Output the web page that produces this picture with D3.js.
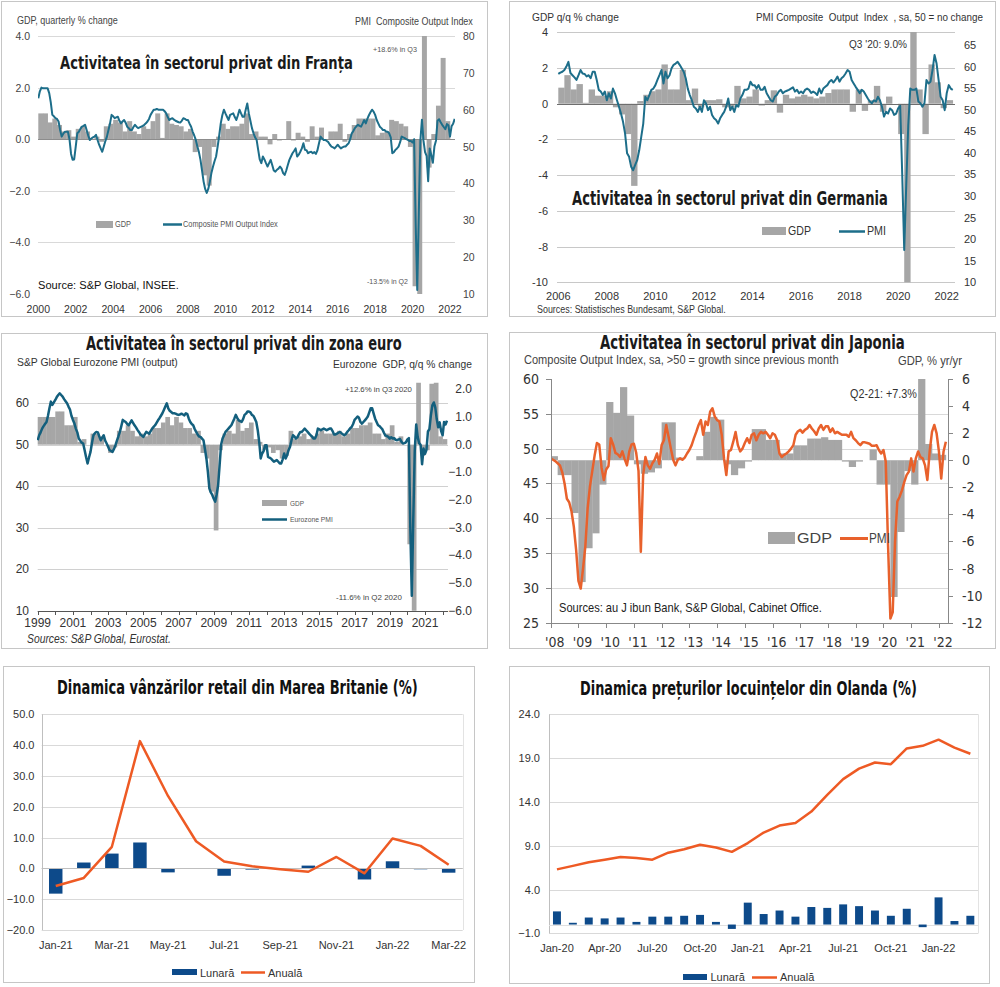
<!DOCTYPE html>
<html><head><meta charset="utf-8">
<script src="https://cdn.jsdelivr.net/npm/d3@7"></script>
<style>
html,body{margin:0;padding:0;background:#fff;}
svg{display:block;}
text{white-space:pre;}
</style></head><body>
<svg id="c" width="1000" height="987"></svg>
<script>
// ================= DATA =================
// France: Composite PMI (monthly, from Jan 2000) and GDP q/q % (quarterly, from 2000 Q1)
const frYearTicks = d3.range(2000, 2023, 2);
const frPmi = [
 63.1,65.0,66.0,65.8,65.8,65.8,65.8,64.5,62.0,58.6,58.2,57.7,
 57.5,56.8,54.5,52.7,53.5,54.0,54.0,54.0,52.0,48.0,46.4,46.5,
 50.0,53.6,54.0,54.8,55.4,55.6,55.9,54.5,53.0,51.8,52.2,52.5,
 52.7,53.2,51.8,50.5,49.5,48.6,50.0,51.5,52.7,54.5,56.3,58.6,
 58.2,57.7,57.9,58.1,57.0,56.3,56.8,57.2,56.5,55.4,55.0,54.5,
 54.5,55.3,55.9,55.4,55.0,55.2,55.4,55.6,55.9,56.3,56.8,57.5,
 58.6,59.3,60.0,60.0,60.2,60.0,60.0,60.0,60.0,59.6,59.0,58.0,
 57.2,57.5,57.7,57.3,57.0,56.8,56.6,56.5,57.0,57.7,57.5,57.2,
 57.2,56.2,55.4,54.0,53.0,51.8,50.0,48.5,46.4,43.5,40.5,38.5,
 37.4,38.5,40.5,42.8,44.5,46.0,47.3,50.0,53.0,56.3,58.5,60.0,
 59.0,58.1,57.2,58.6,58.8,59.0,58.0,57.2,58.5,60.0,59.0,58.1,
 58.1,60.0,61.7,59.0,57.0,55.0,53.6,52.5,51.8,49.1,46.5,45.5,
 47.3,46.5,45.5,44.6,45.5,46.4,45.0,43.5,43.2,43.7,44.0,44.6,
 44.0,42.8,42.3,43.5,45.0,46.4,47.3,48.2,48.8,49.5,47.3,47.8,
 48.6,49.5,50.9,49.1,49.0,48.2,48.5,48.6,48.2,48.5,48.0,49.0,
 50.9,52.7,52.2,51.8,51.8,51.5,51.2,50.5,50.0,49.8,49.5,50.0,
 50.5,50.0,49.5,49.8,50.0,50.0,50.5,50.9,52.0,53.6,54.2,55.0,
 55.5,55.9,55.6,55.4,56.3,57.2,56.3,57.5,58.5,59.3,60.0,59.5,
 58.6,57.2,56.3,55.4,55.0,54.5,54.5,54.1,54.0,53.6,52.5,48.2,
 48.5,49.1,49.5,50.0,51.2,52.7,52.5,52.3,52.0,51.8,51.5,51.5,
 51.1,52.0,28.9,11.1,32.1,51.7,57.3,51.6,48.5,47.5,40.6,49.5,
 47.7,45.6,50.0,51.6,57.0,57.4,56.6,55.9,55.3,54.7,56.1,55.8,
 52.7,55.5,56.2,57.5];
const frGdp = [
 1.0,1.0,0.65,0.8,  0.55,0.3,0.35,0.1,  0.4,0.5,0.3,0.0,  0.1,-0.1,0.5,0.6,
 0.75,0.65,0.3,0.7, 0.3,0.2,0.5,0.4,   0.7,1.0,0.05,1.0, 0.6,0.55,0.5,0.3,
 0.4,-0.5,-0.3,-1.4, -1.8,-0.3,0.1,0.6, 0.4,0.5,0.5,0.6, 1.0,0.2,0.3,0.1,
 0.1,-0.2,0.2,-0.05, 0.0,0.7,-0.05,0.25, 0.1,-0.1,0.5,0.1, 0.45,0.0,0.3,0.3,
 0.6,-0.1,0.2,0.55, 0.8,0.8,0.8,0.8, 0.15,0.25,0.3,0.75, 0.7,0.6,0.5,-0.3,
 -5.7,-13.5,18.6,-1.1, 0.2,1.3,3.15,0.7, 0.0];

// Germany: Composite PMI (monthly, from Jan 2006), GDP q/q % (from 2006 Q1)
const deYearTicks = d3.range(2006, 2023, 2);
const dePmi = [
 58.3,58.6,58.8,59.2,60.0,61.1,58.5,58.0,57.5,56.9,58.0,59.2,
 58.4,58.3,57.7,58.0,57.3,58.8,58.8,56.9,54.6,54.2,53.4,54.2,
 52.2,53.8,52.6,54.9,53.8,52.2,50.7,49.1,47.2,44.5,39.9,39.1,
 36.8,36.0,37.2,38.3,40.6,43.7,46.8,53.0,52.2,53.4,54.6,54.9,
 55.7,56.9,58.0,59.2,56.1,58.8,57.3,58.0,59.6,60.4,60.7,61.1,
 60.4,59.6,58.8,57.3,54.9,53.4,52.2,50.7,50.3,49.5,50.7,49.5,
 52.2,51.5,49.9,50.7,48.8,48.0,47.6,46.8,48.0,48.8,49.5,50.7,
 52.6,49.9,50.7,49.5,51.1,50.7,52.6,53.4,54.6,54.6,54.9,56.5,
 55.7,55.7,54.9,55.7,54.6,54.6,55.3,53.8,53.0,52.2,51.9,53.0,
 53.4,54.2,54.6,53.8,54.2,54.4,54.6,54.9,55.2,54.2,54.6,53.8,
 54.2,53.8,54.6,54.9,54.6,53.9,54.2,53.9,53.4,54.9,53.8,54.9,
 55.3,55.7,56.5,56.9,56.3,56.9,57.7,56.5,57.3,57.7,58.4,59.2,
 58.8,56.9,56.1,55.3,54.6,53.8,54.6,54.2,53.4,52.6,51.9,51.5,
 52.2,51.9,53.0,52.2,50.7,48.4,49.5,49.1,50.3,49.9,48.8,49.1,
 50.3,50.9,35.2,17.5,32.5,46.4,54.9,54.6,54.6,54.9,51.9,51.5,
 50.7,51.5,56.9,56.1,56.5,59.2,62.7,60.7,56.9,53.0,52.2,49.9,
 53.8,55.7,54.9,54.6];
const deGdp = [
 0.9,1.6,0.8,1.1,  0.05,0.8,0.45,0.45,  0.7,-0.2,-0.6,-1.7,  -4.6,0.15,0.5,0.7,
 0.8,2.2,0.8,0.8,  1.9,0.2,0.85,-0.2,   0.2,0.2,0.25,-0.2,   -0.2,1.0,0.3,0.4,
 0.8,-0.1,0.2,0.75, -0.5,0.5,0.3,0.4,   0.5,0.4,0.3,0.4,     0.6,0.8,0.8,0.8,
 -0.45,0.8,-0.4,0.2, 1.0,-0.45,0.4,0.0, -1.7,-10.0,9.0,0.8,  -1.7,2.2,1.2,-0.25,
 0.2];

// Eurozone: PMI output (monthly, from Jan 1999), GDP q/q % (from 1999 Q1)
const ezYearTicks = d3.range(1999, 2022, 2);
const ezPmi = [
 51.1,52.3,53.0,53.9,54.5,55.0,55.5,57.0,58.8,60.4,59.6,60.2,
 60.8,61.5,62.0,62.4,62.0,61.6,61.0,60.5,60.0,59.2,58.5,57.0,
 56.0,55.2,53.9,53.0,51.5,51.0,50.5,50.3,48.7,47.0,45.5,47.0,
 48.3,50.5,52.3,52.8,53.1,53.0,52.0,51.1,51.7,52.3,51.0,50.3,
 49.5,48.7,48.5,48.3,49.0,49.9,51.0,52.0,53.1,54.5,56.0,55.7,
 55.5,55.0,54.7,55.3,55.9,55.3,54.7,54.2,53.6,53.1,52.5,52.2,
 51.9,52.5,53.1,52.9,52.7,53.3,53.9,54.3,54.7,55.3,55.9,56.4,
 57.0,57.6,58.4,59.2,60.0,58.8,58.2,57.9,57.6,57.6,57.5,57.3,
 57.2,57.3,57.5,57.3,57.1,57.6,57.4,56.3,55.5,55.0,54.7,53.8,
 53.1,52.5,52.0,51.9,51.5,51.1,49.0,46.7,43.5,39.5,38.5,37.9,
 37.0,36.3,38.0,40.3,45.1,50.0,51.5,52.3,53.1,53.5,53.9,54.3,
 54.7,55.5,56.3,57.2,56.5,55.9,55.7,55.5,56.2,57.2,57.5,58.0,
 58.0,57.8,57.2,57.0,56.3,55.5,53.5,50.7,46.7,47.9,48.5,49.9,
 49.9,47.1,46.9,46.7,46.3,45.9,46.1,46.3,45.9,45.5,45.5,46.5,
 47.9,46.7,47.5,48.7,49.5,51.1,52.3,52.0,51.5,51.8,52.5,53.1,
 53.1,53.5,53.9,53.5,53.1,52.7,52.3,52.0,51.5,51.5,52.3,53.9,
 53.7,53.5,53.7,53.9,53.7,53.5,53.7,53.9,53.9,53.3,52.5,52.5,
 52.7,52.9,53.1,52.8,52.5,52.3,52.6,53.1,53.5,54.0,54.3,55.0,
 56.0,56.4,56.8,56.5,55.5,55.1,55.5,55.9,56.3,56.8,57.8,58.8,
 58.8,57.5,56.3,55.5,54.7,54.5,54.1,53.7,52.9,52.2,52.1,51.9,
 51.5,51.8,51.5,51.6,51.2,51.1,51.3,51.4,50.7,50.3,50.4,50.6,
 51.3,51.6,29.7,13.6,31.9,48.5,54.9,51.9,50.4,50.0,45.3,49.1,
 47.8,48.8,53.2,53.8,57.1,59.5,60.2,59.0,56.2,54.2,55.4,53.3,
 52.3,55.5,54.9,55.8];
const ezGdp = [
 1.0,1.0,1.0,1.0,  1.2,1.2,0.7,0.7,  1.0,0.1,0.2,0.0,  0.4,0.4,0.3,0.0,
 -0.3,-0.1,0.5,0.5, 0.7,0.5,0.3,0.4, 0.3,0.4,0.6,0.6,  0.8,1.0,0.7,1.0,
 0.8,0.6,0.6,0.4,  0.5,-0.3,-0.5,-1.7, -3.1,-0.2,0.4,0.5, 0.4,0.9,0.5,0.6,
 0.8,0.2,0.1,-0.2, -0.1,-0.3,-0.2,-0.5, -0.4,0.5,0.2,0.3, 0.4,0.2,0.3,0.4,
 0.5,0.4,0.4,0.4,  0.5,0.3,0.4,0.6,  0.6,0.7,0.7,0.8,  0.4,0.4,0.2,0.4,
 0.7,0.1,0.3,0.0,  -3.6,-11.6,12.6,-0.4, -0.2,2.2,2.3,0.3, 0.2];

// Japan: Composite Output Index (monthly, from Jan 2008), GDP % y/y (from 2008 Q1)
const jpYearTicks = d3.range(2008, 2023);
const jpPmi = [
 48.6,48.4,48.2,47.9,47.6,46.6,45.0,42.8,42.3,41.0,38.8,35.5,
 31.0,29.9,32.8,36.0,41.5,44.6,46.8,49.0,50.8,50.6,47.3,45.5,
 47.0,47.5,51.5,50.6,49.4,49.2,48.8,49.6,48.5,47.6,49.6,50.6,
 50.7,49.4,46.8,35.2,46.2,48.8,47.6,47.1,47.9,48.4,49.3,47.8,
 50.5,51.2,53.4,51.7,50.0,48.4,47.6,48.4,48.6,48.4,48.7,49.3,
 49.8,50.5,51.5,52.4,53.4,54.1,52.0,53.9,53.4,55.3,55.8,54.6,
 54.1,53.9,52.0,48.6,46.2,49.6,49.8,51.0,52.4,50.5,49.6,50.0,
 50.8,51.5,50.8,52.0,52.2,51.2,52.0,52.4,52.2,52.4,52.0,51.5,
 52.2,52.0,51.2,49.3,48.8,49.1,49.3,49.6,50.0,50.5,52.0,52.5,
 52.7,52.3,52.7,52.9,53.4,52.9,52.5,52.0,52.9,53.4,52.7,53.2,
 53.2,52.4,52.9,52.2,52.4,52.2,52.0,52.0,52.0,51.7,52.4,51.5,
 51.2,50.8,50.5,50.9,50.9,50.8,50.7,50.4,50.4,50.5,49.8,49.3,
 49.8,48.1,36.0,25.6,26.5,36.6,42.4,43.1,44.0,45.2,46.2,46.7,
 48.6,46.7,48.6,49.6,48.8,48.6,47.6,45.5,49.6,52.4,53.4,52.2,
 49.6,45.7,49.6,51.0];
const jpGdp = [
 0.3,-1.1,-1.1,-3.9,  -9.0,-6.5,-5.4,-1.8,  4.3,3.5,5.4,3.3,  -0.3,-1.0,-0.9,-0.6,
 2.8,2.8,0.2,0.0,     0.0,0.3,2.1,3.2,     3.0,-0.3,-1.1,-0.6, -0.1,2.3,2.3,1.5,
 1.5,0.5,0.5,1.1,     1.1,1.6,1.6,1.7,     1.5,1.5,-0.1,-0.5, -0.1,0.0,0.8,-1.8,
 -1.8,-10.1,-5.3,-0.8, -1.8,7.3,1.2,0.5,   0.4];

// UK retail sales (%)
const ukMonths = ['Jan-21','Feb-21','Mar-21','Apr-21','May-21','Jun-21','Jul-21','Aug-21','Sep-21','Oct-21','Nov-21','Dec-21','Jan-22','Feb-22','Mar-22'];
const ukMonthly = [-8.2,1.9,4.8,8.4,-1.3,0.0,-2.4,-0.4,-0.2,0.9,0.0,-3.6,2.3,-0.3,-1.4];
const ukAnnual  = [-5.7,-3.1,7.0,41.3,23.5,8.8,2.2,0.7,-0.3,-1.1,3.7,-1.6,9.7,7.3,1.2];
const ukTicks = [-20,-10,0,10,20,30,40,50];

// Netherlands house prices (%)
const nlMonths = ['Jan-20','Feb-20','Mar-20','Apr-20','May-20','Jun-20','Jul-20','Aug-20','Sep-20','Oct-20','Nov-20','Dec-20',
 'Jan-21','Feb-21','Mar-21','Apr-21','May-21','Jun-21','Jul-21','Aug-21','Sep-21','Oct-21','Nov-21','Dec-21','Jan-22','Feb-22','Mar-22'];
const nlMonthly = [1.5,0.2,0.8,0.7,0.8,0.3,0.9,0.9,1.0,1.1,0.3,-0.5,2.5,1.2,1.6,0.9,2.0,1.9,2.3,2.1,1.6,1.0,1.8,-0.3,3.1,0.4,1.0];
const nlAnnual  = [6.3,6.7,7.1,7.4,7.7,7.6,7.4,8.2,8.6,9.1,8.8,8.3,9.3,10.5,11.3,11.6,12.9,14.8,16.6,17.8,18.5,18.3,20.1,20.4,21.1,20.2,19.5];
const nlTicks = [-1,4,9,14,19,24];

// ================= HELPERS =================
const svg = d3.select('#c');
svg.append('rect').attr('width',1000).attr('height',987).attr('fill','#fff');
const NARROW = '"Liberation Sans Narrow","DejaVu Sans Condensed","Liberation Sans",sans-serif';
const SANS = '"Liberation Sans",Arial,sans-serif';
const GRAY = '#a6a6a6', TEAL = '#1d6e8a', TEAL2 = '#135f7d', ORJ = '#e8612c', ORL = '#ee5a24', BLUE = '#0d4a8a';

// text helper; when o.w is given the text is scaled horizontally (via transform) to span exactly o.w px
function T(g, x, y, s, o = {}) {
  const anchor = o.anchor || 'start';
  const t = g.append('text').text(s)
    .attr('dominant-baseline', 'central')
    .attr('font-size', o.size || 11)
    .attr('font-family', o.family || SANS)
    .attr('fill', o.fill || '#333');
  if (o.weight) t.attr('font-weight', o.weight);
  if (o.style) t.attr('font-style', o.style);
  if (o.w) {
    const len = t.node().getComputedTextLength() || o.w;
    const k = o.w / len;
    const x0 = anchor === 'end' ? x - o.w : anchor === 'middle' ? x - o.w / 2 : x;
    t.attr('x', 0).attr('y', 0).attr('text-anchor', 'start')
      .attr('transform', `translate(${x0},${y}) scale(${k},1)`);
  } else {
    t.attr('x', x).attr('y', y).attr('text-anchor', anchor);
  }
  return t;
}
function frame(x0, y0, x1, y1) {
  svg.append('rect').attr('x', x0 + 0.5).attr('y', y0 + 0.5).attr('width', x1 - x0).attr('height', y1 - y0)
    .attr('fill', 'none').attr('stroke', '#c6c6c6');
}
function hline(g, x0, x1, y, c, w = 1) {
  g.append('line').attr('x1', x0).attr('x2', x1).attr('y1', Math.round(y) + 0.5).attr('y2', Math.round(y) + 0.5)
    .attr('stroke', c).attr('stroke-width', w);
}
function vline(g, x, y0, y1, c, w = 1) {
  g.append('line').attr('x1', Math.round(x) + 0.5).attr('x2', Math.round(x) + 0.5).attr('y1', y0).attr('y2', y1)
    .attr('stroke', c).attr('stroke-width', w);
}
let clipN = 0;
function clip(x, y, w, h) {
  const id = 'cp' + (clipN++);
  svg.append('clipPath').attr('id', id).append('rect').attr('x', x).attr('y', y).attr('width', w).attr('height', h);
  return `url(#${id})`;
}
const monthly = (arr, y0) => arr.map((v, i) => ({ t: y0 + i / 12, v }));
const quarterly = (arr, y0) => arr.map((v, i) => ({ t0: y0 + i / 4, t1: y0 + (i + 1) / 4, v }));
function bars(g, data, x, y, cp, fill) {
  g.append('g').attr('clip-path', cp).selectAll('rect').data(data).join('rect')
    .attr('x', d => x(d.t0)).attr('width', d => x(d.t1) - x(d.t0) + 0.3)
    .attr('y', d => Math.min(y(0), y(d.v))).attr('height', d => Math.abs(y(d.v) - y(0)))
    .attr('fill', fill);
}
function line(g, data, x, y, cp, color, w) {
  g.append('path').datum(data).attr('clip-path', cp).attr('fill', 'none').attr('stroke', color)
    .attr('stroke-width', w).attr('stroke-linejoin', 'round')
    .attr('d', d3.line().x(d => x(d.t)).y(d => y(d.v)));
}

// ================= PANEL 1: FRANCE =================
{
  frame(1, 1, 487, 316);
  const g = svg.append('g');
  const x = d3.scaleLinear().domain([2000, 2022]).range([38.3, 450]);
  const yL = d3.scaleLinear().domain([-6, 4]).range([294, 36]);
  const yR = d3.scaleLinear().domain([10, 80]).range([294, 36]);
  const cp = clip(38, 36, 417, 258);
  [4, 2, -2, -4].forEach(v => hline(g, 38, 455, yL(v), '#d9d9d9'));
  bars(g, quarterly(frGdp, 2000), x, yL, cp, GRAY);
  hline(g, 38, 455, yL(0), '#8c8c8c');
  line(g, monthly(frPmi, 2000), x, yR, cp, TEAL, 2);
  [4, 2, 0, -2, -4, -6].forEach(v => T(g, 30, yL(v), d3.format('.1f')(v), { size: 10.5, anchor: 'end', fill: '#444' }));
  d3.range(10, 81, 10).forEach(v => T(g, 463, yR(v), String(v), { size: 10.5, fill: '#444' }));
  frYearTicks.forEach(yr => T(g, x(yr), 309, String(yr), { size: 10.5, anchor: 'middle', fill: '#333' }));
  T(g, 17, 20, 'GDP, quarterly % change', { size: 10.5, fill: '#444', w: 101 });
  T(g, 473, 21, 'PMI  Composite Output Index', { size: 10.5, anchor: 'end', fill: '#444', w: 118 });
  T(g, 60, 63, 'Activitatea în sectorul privat din Franța', { size: 18, weight: 'bold', family: NARROW, fill: '#1a1a1a', w: 293 });
  g.append('rect').attr('x', 96).attr('y', 221).attr('width', 17).attr('height', 7).attr('fill', GRAY);
  T(g, 115, 224.5, 'GDP', { size: 8.5, fill: '#555', w: 16 });
  hline(g, 163, 182, 224, TEAL, 2.5);
  T(g, 183, 224.5, 'Composite PMI Output Index', { size: 8.5, fill: '#555', w: 95 });
  T(g, 38, 285, 'Source: S&P Global, INSEE.', { size: 11.5, fill: '#111', w: 141 });
  T(g, 373, 49, '+18.6% in Q3', { size: 7.5, fill: '#555', w: 44 });
  T(g, 367, 281, '-13.5% in Q2', { size: 7.5, fill: '#555', w: 41 });
}

// ================= PANEL 2: GERMANY =================
{
  frame(509, 1, 995, 316);
  const g = svg.append('g');
  const x = d3.scaleLinear().domain([2006, 2022]).range([558.3, 946.7]);
  const yL = d3.scaleLinear().domain([-10, 4]).range([282.3, 32.3]);
  const yR = d3.scaleLinear().domain([10, 65]).range([282.3, 45]);
  const cp = clip(557, 32, 398, 251);
  [4, 2, -2, -4, -6, -8, -10].forEach(v => hline(g, 557, 955, yL(v), '#c8c8c8'));
  bars(g, quarterly(deGdp, 2006), x, yL, cp, GRAY);
  hline(g, 557, 955, yL(0), '#6e6e6e');
  line(g, monthly(dePmi, 2006), x, yR, cp, TEAL, 2);
  [4, 2, 0, -2, -4, -6, -8, -10].forEach(v => T(g, 548, yL(v), String(v), { size: 11, anchor: 'end', fill: '#333' }));
  d3.range(10, 66, 5).forEach(v => T(g, 964, yR(v), String(v), { size: 11, fill: '#333' }));
  deYearTicks.forEach(yr => T(g, x(yr), 296, String(yr), { size: 11, anchor: 'middle', fill: '#333' }));
  T(g, 532, 17, 'GDP q/q % change', { size: 11, fill: '#333', w: 87 });
  T(g, 983, 17, 'PMI Composite  Output  Index  , sa, 50 = no change', { size: 11, anchor: 'end', fill: '#333', w: 227 });
  T(g, 572, 198, 'Activitatea în sectorul privat din Germania', { size: 19, weight: 'bold', family: NARROW, fill: '#1a1a1a', w: 316 });
  g.append('rect').attr('x', 762).attr('y', 227).attr('width', 24).attr('height', 8).attr('fill', GRAY);
  T(g, 788, 231, 'GDP', { size: 12, fill: '#333', w: 23 });
  hline(g, 839, 865, 231, TEAL, 2.5);
  T(g, 867, 231, 'PMI', { size: 12, fill: '#333', w: 19 });
  T(g, 907, 44, "Q3 '20: 9.0%", { size: 11, anchor: 'end', fill: '#333', w: 58 });
  T(g, 537, 309, 'Sources: Statistisches Bundesamt, S&P Global.', { size: 11, fill: '#333', w: 189 });
}

// ================= PANEL 3: EUROZONE =================
{
  frame(1, 333, 487, 648);
  const g = svg.append('g');
  const x = d3.scaleLinear().domain([1999, 2021]).range([37.7, 425]);
  const yL = d3.scaleLinear().domain([10, 60]).range([610.7, 403.3]);
  const yR = d3.scaleLinear().domain([-6, 2]).range([610.7, 389.3]);
  const cp = clip(37, 382.7, 411, 228);
  [60, 50, 40, 30, 20].forEach(v => hline(g, 37.7, 448, yL(v), '#d0d0d0'));
  bars(g, quarterly(ezGdp, 1999), x, yR, cp, GRAY);
  line(g, monthly(ezPmi, 1999), x, yL, cp, TEAL2, 2.5);
  hline(g, 37.7, 448, yL(10), '#555');
  d3.range(1999, 2023, 1).forEach(yr => vline(g, x(yr), 611, 615, '#555'));
  [60, 50, 40, 30, 20, 10].forEach(v => T(g, 29, yL(v), String(v), { size: 12, anchor: 'end', fill: '#333' }));
  [2, 1, 0, -1, -2, -3, -4, -5, -6].forEach(v => T(g, 472, yR(v), d3.format('.1f')(v), { size: 12, anchor: 'end', fill: '#333' }));
  ezYearTicks.forEach(yr => T(g, x(yr), 623, String(yr), { size: 12, anchor: 'middle', fill: '#333' }));
  T(g, 86, 343, 'Activitatea în sectorul privat din zona euro', { size: 19, weight: 'bold', family: NARROW, fill: '#1a1a1a', w: 316 });
  T(g, 17, 362, 'S&P Global Eurozone PMI (output)', { size: 11, fill: '#333', w: 161 });
  T(g, 472, 364, 'Eurozone  GDP, q/q % change', { size: 11, anchor: 'end', fill: '#333', w: 139 });
  g.append('rect').attr('x', 262).attr('y', 500).attr('width', 25).attr('height', 6).attr('fill', GRAY);
  T(g, 290, 503, 'GDP', { size: 6.5, fill: '#555', w: 14 });
  hline(g, 262, 287, 519, TEAL2, 2.5);
  T(g, 290, 519.5, 'Eurozone PMI', { size: 6.5, fill: '#555', w: 43 });
  T(g, 412, 390, '+12.6% in Q3 2020', { size: 7.5, anchor: 'end', fill: '#444', w: 67 });
  T(g, 402, 598, '-11.6% in Q2 2020', { size: 7.5, anchor: 'end', fill: '#444', w: 66 });
  T(g, 27, 639, 'Sources: S&P Global, Eurostat.', { size: 12, style: 'italic', fill: '#333', w: 144 });
}

// ================= PANEL 4: JAPAN =================
{
  frame(509, 332, 995, 648);
  const g = svg.append('g');
  const x = d3.scaleLinear().domain([2008, 2022]).range([550.7, 550.7 + 14 * 27.73]);
  const yL = d3.scaleLinear().domain([25, 60]).range([622.7, 379]);
  const yR = d3.scaleLinear().domain([-12, 6]).range([622.7, 379]);
  const cp = clip(551, 379, 397.3, 244);
  [55, 50, 45, 40, 35, 30].forEach(v => hline(g, 550.7, 948.3, yL(v), '#d9d9d9'));
  bars(g, quarterly(jpGdp, 2008), x, yR, cp, GRAY);
  line(g, monthly(jpPmi, 2008), x, yL, cp, ORJ, 2.5);
  vline(g, 550.7, 379, 623, '#888');
  vline(g, 948.3, 379, 623, '#888');
  hline(g, 550.7, 948.3, 622.7, '#888');
  d3.range(25, 61, 5).forEach(v => { hline(g, 546, 551, yL(v), '#888'); T(g, 539, yL(v), String(v), { size: 14, anchor: 'end', fill: '#333', family: NARROW }); });
  d3.range(-12, 7, 2).forEach(v => { hline(g, 948, 953, yR(v), '#888'); T(g, 962, yR(v), String(v), { size: 14, fill: '#333', family: NARROW }); });
  jpYearTicks.forEach(yr => { vline(g, x(yr), 623, 628, '#888'); T(g, x(yr + 0.15), 642, "'" + String(yr).slice(2), { size: 14, anchor: 'middle', fill: '#333', family: NARROW }); });
  T(g, 600, 342, 'Activitatea în sectorul privat din Japonia', { size: 19, weight: 'bold', family: NARROW, fill: '#1a1a1a', w: 305 });
  T(g, 524, 360, 'Composite Output Index, sa, >50 = growth since previous month', { size: 12, fill: '#444', w: 315 });
  T(g, 962, 360, 'GDP, % yr/yr', { size: 12, anchor: 'end', fill: '#444', w: 64 });
  g.append('rect').attr('x', 768).attr('y', 532).attr('width', 27).attr('height', 12).attr('fill', GRAY);
  T(g, 797, 538, 'GDP', { size: 15, fill: '#444', w: 35 });
  hline(g, 840, 868, 538, ORJ, 3);
  T(g, 869, 538, 'PMI', { size: 15, fill: '#444', w: 21 });
  T(g, 917, 394, 'Q2-21: +7.3%', { size: 12, anchor: 'end', fill: '#333', w: 67 });
  T(g, 559, 608, 'Sources: au J ibun Bank, S&P Global, Cabinet Office.', { size: 12, fill: '#222', w: 263 });
}

// ================= PANEL 5: UK RETAIL =================
{
  frame(3, 666, 474, 982);
  const g = svg.append('g');
  const x = d3.scaleBand().domain(ukMonths).range([41.7, 462.7]).paddingInner(0.52).paddingOuter(0.26);
  const y = d3.scaleLinear().domain([-20, 50]).range([930, 714.3]);
  ukTicks.forEach(v => hline(g, 41.7, 462.7, y(v), '#d9d9d9'));
  vline(g, 462.7, 714.3, 930, '#e3e3e3');
  vline(g, 41.7, 714.3, 930, '#bfbfbf');
  g.selectAll('rect.b').data(ukMonthly).join('rect').attr('class', 'b')
    .attr('x', (d, i) => x(ukMonths[i])).attr('width', x.bandwidth())
    .attr('y', d => Math.min(y(0), y(d))).attr('height', d => Math.abs(y(d) - y(0))).attr('fill', BLUE);
  hline(g, 41.7, 462.7, y(0), '#bfbfbf');
  g.append('path').datum(ukAnnual).attr('fill', 'none').attr('stroke', ORL).attr('stroke-width', 2.5).attr('stroke-linejoin', 'round')
    .attr('d', d3.line().x((d, i) => x(ukMonths[i]) + x.bandwidth() / 2).y(d => y(d)));
  ukTicks.forEach(v => T(g, 34.5, y(v), d3.format('.1f')(v), { size: 11, anchor: 'end', fill: '#333' }));
  ukMonths.forEach((m, i) => { if (i % 2 === 0) T(g, x(m) + x.bandwidth() / 2, 945, m, { size: 11, anchor: 'middle', fill: '#333' }); });
  T(g, 57, 687, 'Dinamica vânzărilor retail din Marea Britanie (%)', { size: 19, weight: 'bold', family: NARROW, fill: '#111', w: 361 });
  g.append('rect').attr('x', 172).attr('y', 969).attr('width', 25).attr('height', 6).attr('fill', BLUE);
  T(g, 200, 972.5, 'Lunară', { size: 11, fill: '#333' });
  hline(g, 241, 265, 972, ORL, 2.5);
  T(g, 268, 972.5, 'Anuală', { size: 11, fill: '#333' });
}

// ================= PANEL 6: NETHERLANDS HOUSING =================
{
  frame(509, 666, 989, 983);
  const g = svg.append('g');
  const x = d3.scaleBand().domain(nlMonths).range([549, 978.3]).paddingInner(0.5).paddingOuter(0.25);
  const y = d3.scaleLinear().domain([-1, 24]).range([933.3, 714.3]);
  nlTicks.forEach(v => hline(g, 549, 978.3, y(v), '#d9d9d9'));
  vline(g, 978.3, 714.3, 933.3, '#e3e3e3');
  vline(g, 549, 714.3, 933.3, '#bfbfbf');
  hline(g, 549, 978.3, y(0), '#e0e0e0');
  g.selectAll('rect.b').data(nlMonthly).join('rect').attr('class', 'b')
    .attr('x', (d, i) => x(nlMonths[i])).attr('width', x.bandwidth())
    .attr('y', d => Math.min(y(0), y(d))).attr('height', d => Math.abs(y(d) - y(0))).attr('fill', BLUE);
  g.append('path').datum(nlAnnual).attr('fill', 'none').attr('stroke', ORL).attr('stroke-width', 2.5).attr('stroke-linejoin', 'round')
    .attr('d', d3.line().x((d, i) => x(nlMonths[i]) + x.bandwidth() / 2).y(d => y(d)));
  nlTicks.forEach(v => T(g, 540, y(v), d3.format('.1f')(v), { size: 11, anchor: 'end', fill: '#333' }));
  nlMonths.forEach((m, i) => { if (i % 3 === 0) T(g, x(m) + x.bandwidth() / 2, 948, m, { size: 11, anchor: 'middle', fill: '#333' }); });
  T(g, 580, 688, 'Dinamica prețurilor locuințelor din Olanda (%)', { size: 19, weight: 'bold', family: NARROW, fill: '#111', w: 337 });
  g.append('rect').attr('x', 683).attr('y', 974).attr('width', 24).attr('height', 6).attr('fill', BLUE);
  T(g, 710.5, 977, 'Lunară', { size: 11, fill: '#333' });
  hline(g, 752, 777, 977, ORL, 2.5);
  T(g, 780, 977, 'Anuală', { size: 11, fill: '#333' });
}
</script></body></html>
